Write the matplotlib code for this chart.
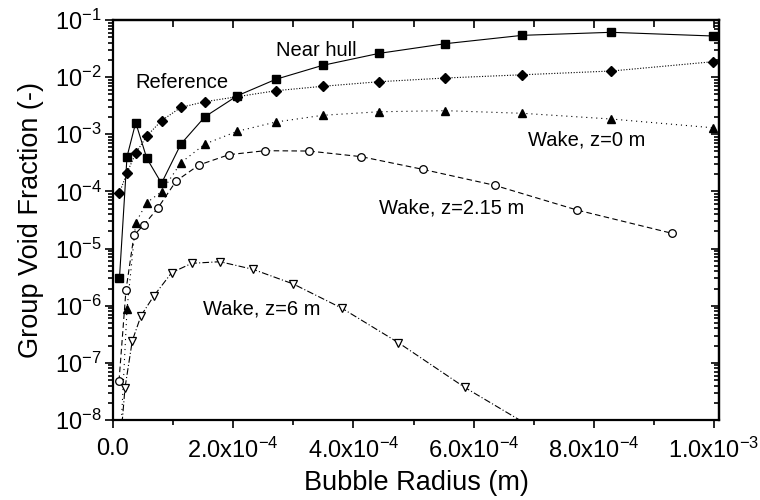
import numpy as np
import matplotlib
matplotlib.use('Agg')
import matplotlib.pyplot as plt
from matplotlib.ticker import FixedLocator, MultipleLocator, LogLocator, NullFormatter, FuncFormatter

plt.rcParams['font.family'] = ['Liberation Sans', 'DejaVu Sans']
plt.rcParams['mathtext.fontset'] = 'custom'
plt.rcParams['mathtext.rm'] = 'Liberation Sans'
plt.rcParams['mathtext.it'] = 'Liberation Sans:italic'
plt.rcParams['mathtext.bf'] = 'Liberation Sans:bold'

# radius grids (m)
r_hull = [1.08e-5, 2.33e-5, 3.78e-5, 5.62e-5, 8.07e-5, 1.13e-4, 1.53e-4, 2.07e-4,
          2.71e-4, 3.49e-4, 4.43e-4, 5.53e-4, 6.81e-4, 8.29e-4, 9.98e-4]
r_w215 = [1.0e-5, 2.16e-5, 3.49e-5, 5.16e-5, 7.44e-5, 1.05e-4, 1.43e-4, 1.93e-4,
          2.53e-4, 3.26e-4, 4.13e-4, 5.15e-4, 6.35e-4, 7.72e-4, 9.30e-4]
r_w6 = [1.0e-5, 2.0e-5, 3.21e-5, 4.66e-5, 6.82e-5, 9.77e-5, 1.31e-4, 1.78e-4,
        2.33e-4, 3.0e-4, 3.81e-4, 4.75e-4, 5.85e-4, 7.12e-4]

near_hull = [3.09e-6, 4.05e-4, 1.60e-3, 3.80e-4, 1.39e-4, 6.76e-4, 2.03e-3, 4.73e-3,
             9.17e-3, 1.61e-2, 2.61e-2, 3.85e-2, 5.39e-2, 6.09e-2, 5.25e-2]
reference = [9.5e-5, 2.13e-4, 4.65e-4, 9.33e-4, 1.73e-3, 2.96e-3, 3.72e-3, 4.55e-3,
             5.79e-3, 6.92e-3, 8.32e-3, 9.66e-3, 1.10e-2, 1.28e-2, 1.86e-2]
wake_z0 = [2e-9, 8.65e-7, 2.84e-5, 6.35e-5, 9.89e-5, 3.18e-4, 6.76e-4, 1.13e-3,
           1.64e-3, 2.15e-3, 2.48e-3, 2.59e-3, 2.33e-3, 1.85e-3, 1.30e-3]
wake_z215 = [4.81e-8, 1.88e-6, 1.71e-5, 2.62e-5, 5.07e-5, 1.52e-4, 2.90e-4, 4.40e-4,
             5.16e-4, 5.09e-4, 4.06e-4, 2.44e-4, 1.28e-4, 4.73e-5, 1.85e-5]
wake_z6 = [2e-9, 3.67e-8, 2.44e-7, 6.68e-7, 1.50e-6, 3.79e-6, 5.52e-6, 5.89e-6,
           4.33e-6, 2.40e-6, 9.02e-7, 2.25e-7, 3.73e-8, 6e-9]

x_ticks = [0.0, 2e-4, 4e-4, 6e-4, 8e-4, 1e-3]
x_tick_labels = ['0.0', '2.0x10$^{-4}$', '4.0x10$^{-4}$', '6.0x10$^{-4}$',
                 '8.0x10$^{-4}$', '1.0x10$^{-3}$']

fig = plt.figure(figsize=(7.6, 5), dpi=100)
ax = fig.add_axes([113 / 760, 80 / 500, 606 / 760, 400 / 500])

lw = 0.8
ax.plot(r_hull, near_hull, color='k', ls='-', lw=lw, marker='s', ms=5.8,
        mfc='k', mec='k')
ax.plot(r_hull, reference, color='k', ls=(0, (1, 1.5)), lw=lw, marker='D', ms=4.8,
        mfc='k', mec='k')
ax.plot(r_hull, wake_z0, color='k', ls=(0, (1, 3.5)), lw=lw, marker='^', ms=6.2,
        mfc='k', mec='k')
ax.plot(r_w215, wake_z215, color='k', ls=(0, (5, 3)), lw=lw, marker='o', ms=5.5,
        mfc='white', mec='k', mew=0.9)
ax.plot(r_w6, wake_z6, color='k', ls=(0, (6, 2, 1, 2)), lw=lw, marker='v', ms=6.2,
        mfc='white', mec='k', mew=0.9)

ax.set_yscale('log')
ax.set_xlim(0, 1.0083e-3)
ax.set_ylim(1e-8, 1e-1)

ax.xaxis.set_major_locator(FixedLocator(x_ticks))
ax.set_xticklabels(x_tick_labels)
ax.xaxis.set_minor_locator(MultipleLocator(1e-4))
ax.yaxis.set_major_locator(LogLocator(base=10, numticks=20))
ax.yaxis.set_minor_locator(LogLocator(base=10, subs=np.arange(2, 10), numticks=20))
ax.yaxis.set_minor_formatter(NullFormatter())
ax.yaxis.set_major_formatter(FuncFormatter(lambda v, p: '10$^{%d}$' % int(round(np.log10(v)))))

ax.tick_params(which='both', direction='out', top=False, right=False, width=1.2,
               labelsize=17)
ax.tick_params(which='major', length=6)
ax.tick_params(which='minor', length=3.5)
ax.tick_params(axis='x', which='major', pad=7)
ax.tick_params(axis='y', which='major', pad=2)

# inward ticks on the mirrored top/right axes
sec_x = ax.secondary_xaxis('top')
sec_x.xaxis.set_major_locator(FixedLocator(x_ticks))
sec_x.xaxis.set_minor_locator(MultipleLocator(1e-4))
sec_x.tick_params(which='both', direction='in', labeltop=False, width=1.2)
sec_x.tick_params(which='major', length=6)
sec_x.tick_params(which='minor', length=5)
sec_y = ax.secondary_yaxis('right')
sec_y.set_yscale('log')
sec_y.yaxis.set_major_locator(LogLocator(base=10, numticks=20))
sec_y.yaxis.set_minor_locator(LogLocator(base=10, subs=np.arange(2, 10), numticks=20))
sec_y.tick_params(which='both', direction='in', labelright=False, width=1.2)
sec_y.tick_params(which='major', length=6)
sec_y.tick_params(which='minor', length=3.5)
for s in list(ax.spines.values()):
    s.set_linewidth(1.6)
sec_x.spines['top'].set_linewidth(1.6)
sec_y.spines['right'].set_linewidth(1.6)

ax.set_xlabel('Bubble Radius (m)', fontsize=19.5, labelpad=5)
ax.set_ylabel('Group Void Fraction (-)', fontsize=19.5, labelpad=8)

ax.text(2.72e-4, 2.98e-2, 'Near hull', fontsize=14.5, ha='left', va='center')
ax.text(3.66e-5, 7.9e-3, 'Reference', fontsize=14.5, ha='left', va='center')
ax.text(6.9e-4, 7.9e-4, 'Wake, z=0 m', fontsize=14.5, ha='left', va='center')
ax.text(4.43e-4, 5.1e-5, 'Wake, z=2.15 m', fontsize=14.5, ha='left', va='center')
ax.text(1.50e-4, 8.75e-7, 'Wake, z=6 m', fontsize=14.5, ha='left', va='center')

plt.savefig('out.png', dpi=100)
